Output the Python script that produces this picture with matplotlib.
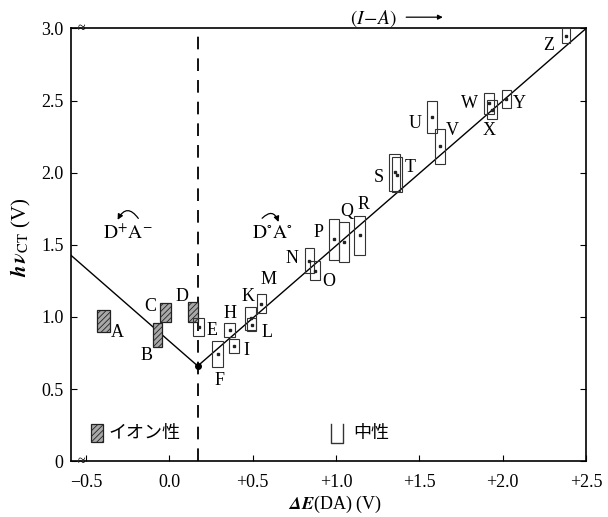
import matplotlib
matplotlib.use("Agg")
import matplotlib.pyplot as plt
import matplotlib.patches as mpatches

plt.rcParams['font.family'] = ['Liberation Serif', 'DejaVu Serif']
plt.rcParams['mathtext.fontset'] = 'stix'
plt.rcParams['hatch.linewidth'] = 0.6

# ionic complexes (hatched boxes): energy ranges
ion_names = ['A', 'B', 'C', 'D']
ion_x_lo = [-0.432, -0.101, -0.057, 0.111]
ion_x_hi = [-0.358, -0.047, 0.009, 0.170]
ion_y_lo = [0.895, 0.790, 0.963, 0.965]
ion_y_hi = [1.047, 0.955, 1.095, 1.105]

# neutral complexes (open boxes)
neu_names = ['E', 'F', 'H', 'I', 'K', 'L', 'M', 'N', 'O', 'P', 'Q', 'R',
             'S', 'T', 'U', 'V', 'W', 'X', 'Y', 'Z']
neu_x_lo = [0.143, 0.256, 0.330, 0.360, 0.454, 0.466, 0.525, 0.811, 0.845, 0.960,
            1.016, 1.110, 1.319, 1.337, 1.543, 1.591, 1.888, 1.903, 1.993, 2.354]
neu_x_hi = [0.208, 0.324, 0.394, 0.420, 0.520, 0.520, 0.580, 0.865, 0.901, 1.020,
            1.080, 1.176, 1.383, 1.397, 1.603, 1.653, 1.948, 1.963, 2.049, 2.406]
neu_y_lo = [0.865, 0.650, 0.860, 0.748, 0.912, 0.900, 1.024, 1.303, 1.257, 1.397,
            1.378, 1.431, 1.874, 1.863, 2.278, 2.061, 2.410, 2.370, 2.446, 2.900]
neu_y_hi = [0.990, 0.830, 0.958, 0.850, 1.070, 0.990, 1.159, 1.478, 1.385, 1.681,
            1.657, 1.699, 2.131, 2.108, 2.497, 2.306, 2.550, 2.503, 2.573, 3.000]

# theoretical V-shaped line
line_x = [-0.593, 0.17, 2.5]
line_y = [1.43, 0.66, 3.0]
boundary_x = 0.17

# where each letter sits
label_pos = {
    'A': (-0.31, 0.89), 'B': (-0.14, 0.73), 'C': (-0.113, 1.07), 'D': (0.073, 1.14),
    'E': (0.254, 0.907), 'F': (0.30, 0.557), 'H': (0.364, 1.026), 'I': (0.465, 0.767),
    'K': (0.472, 1.14), 'L': (0.585, 0.895), 'M': (0.594, 1.257), 'N': (0.735, 1.408),
    'O': (0.955, 1.245), 'P': (0.895, 1.583), 'Q': (1.066, 1.734), 'R': (1.166, 1.78),
    'S': (1.256, 1.968), 'T': (1.447, 2.038), 'U': (1.477, 2.34), 'V': (1.698, 2.294),
    'W': (1.798, 2.48), 'X': (1.918, 2.294), 'Y': (2.099, 2.48), 'Z': (2.276, 2.884),
}

xticks = [-0.5, 0.0, 0.5, 1.0, 1.5, 2.0, 2.5]
xtick_labels = ['\u22120.5', '0.0', '+0.5', '+1.0', '+1.5', '+2.0', '+2.5']
yticks = [0, 0.5, 1.0, 1.5, 2.0, 2.5, 3.0]
ytick_labels = ['0', '0.5', '1.0', '1.5', '2.0', '2.5', '3.0']

fig = plt.figure(figsize=(6.08, 5.17), dpi=100)
ax = fig.add_axes([0.116, 0.108, 0.848, 0.837])
ax.set_xlim(-0.593, 2.5)
ax.set_ylim(0, 3.0)

# boxes
for n, x0, x1, y0, y1 in zip(ion_names, ion_x_lo, ion_x_hi, ion_y_lo, ion_y_hi):
    ax.add_patch(mpatches.Rectangle((x0, y0), x1 - x0, y1 - y0, facecolor='#a8a8a8',
                                    edgecolor='#222222', hatch='//////', lw=0.9, zorder=3))
for n, x0, x1, y0, y1 in zip(neu_names, neu_x_lo, neu_x_hi, neu_y_lo, neu_y_hi):
    ax.add_patch(mpatches.Rectangle((x0, y0), x1 - x0, y1 - y0, facecolor='none',
                                    edgecolor='#333333', lw=0.8, zorder=3))
    ax.plot((x0 + x1) / 2, (y0 + y1) / 2, 's', ms=1.5, color='#222222', zorder=4)

for n, (lx, ly) in label_pos.items():
    ax.text(lx, ly, n, fontsize=13, ha='center', va='center', zorder=5)

# V line + boundary
ax.plot(line_x, line_y, color='black', lw=1.0, zorder=2)
ax.plot(line_x[1], line_y[1], 'o', ms=4, color='black', zorder=4)
ax.axvline(boundary_x, color='black', lw=1.3, ls=(0, (7, 5)), zorder=2)

# charge transfer annotations
ax.text(-0.25, 1.58, r'$\mathrm{D^{+}A^{-}}$', fontsize=14, ha='center', va='center')
ax.annotate('', xy=(-0.318, 1.656), xytext=(-0.177, 1.667),
            arrowprops=dict(arrowstyle='-|>', color='black', lw=0.9,
                            mutation_scale=8, connectionstyle='arc3,rad=0.9'))
ax.text(0.617, 1.58, r'$\mathrm{D^{\circ}A^{\circ}}$', fontsize=14, ha='center', va='center')
ax.annotate('', xy=(0.66, 1.64), xytext=(0.545, 1.67),
            arrowprops=dict(arrowstyle='-|>', color='black', lw=0.9,
                            mutation_scale=8, connectionstyle='arc3,rad=-0.9'))

# (I-A) arrow above the frame
ax.text(1.226, 3.07, r'$(I\!-\!A)$', fontsize=14, ha='center', va='center', clip_on=False)
ax.annotate('', xy=(1.657, 3.078), xytext=(1.404, 3.078), annotation_clip=False,
            arrowprops=dict(arrowstyle='-|>', color='black', lw=0.9, mutation_scale=7))

# legend drawn inside the frame
ax.add_patch(mpatches.Rectangle((-0.468, 0.133), 0.07, 0.127, facecolor='#a8a8a8',
                                edgecolor='#222222', hatch='//////', lw=0.9))
ax.text(-0.368, 0.196, 'イオン性', fontsize=13, ha='left', va='center',
        family=['Noto Sans CJK JP', 'DejaVu Sans'])
ax.plot([0.972, 0.972, 1.042, 1.042], [0.261, 0.129, 0.129, 0.261], color='#333333', lw=1.0)
ax.text(1.106, 0.196, '中性', fontsize=13, ha='left', va='center',
        family=['Noto Sans CJK JP', 'DejaVu Sans'])

# axis break marks
for by in (0.0, 3.0):
    ax.text(-0.53, by, '\u2248', fontsize=10, ha='center', va='center', clip_on=False)

ax.set_xticks(xticks)
ax.set_xticklabels(xtick_labels)
ax.set_yticks(yticks)
ax.set_yticklabels(ytick_labels)
ax.tick_params(direction='in', length=4, width=0.8, labelsize=13, right=True, top=False)
ax.tick_params(axis='x', pad=9)
ax.tick_params(axis='y', pad=5)
for s in ax.spines.values():
    s.set_linewidth(1.2)

ax.set_xlabel(r'$\mathbfit{\Delta E}$(DA) (V)', fontsize=13)
ax.xaxis.set_label_coords(0.513, -0.076)
ax.set_ylabel(r'$\mathbfit{h\,\nu}_{\mathrm{CT}}$ (V)', fontsize=15)
ax.yaxis.set_label_coords(-0.073, 0.517)

fig.savefig('out.png', dpi=100)
